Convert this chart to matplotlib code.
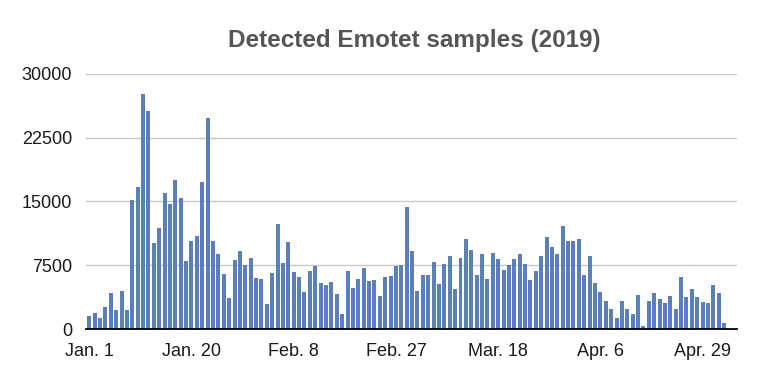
import matplotlib

matplotlib.use("Agg")
import matplotlib.pyplot as plt  # noqa: E402
import numpy as np  # noqa: E402
import pandas as pd  # noqa: E402

plt.rcParams["font.family"] = ["Liberation Sans", "DejaVu Sans"]

TITLE = "Detected Emotet samples (2019)"
DAYS = pd.date_range("2019-01-01", "2019-04-29", freq="D")

# daily sample counts (one per day, Jan 1 .. Apr 29)
SAMPLES_JAN = [1560, 1875, 1330, 2540, 4220, 2230, 4450, 2230, 15190, 16760,
               27620, 25660, 10080, 11870, 16050, 14650, 17540, 15430, 7970, 10310,
               10900, 17300, 24800, 10310, 8870, 6450, 3670, 8090, 9220, 7500,
               8320]
SAMPLES_FEB = [5980, 5860, 2890, 6560, 12300, 7770, 10200, 6760, 6090, 4340,
               6800, 7460, 5430, 5120, 5550, 4100, 1760, 6800, 4880, 5860,
               7230, 5660, 5820, 3870, 6090, 6250, 7460, 7540]
SAMPLES_MAR = [14410, 9220, 4450, 6410, 6410, 7890, 5310, 7660, 8630, 4690,
               8320, 10620, 9300, 6330, 8870, 5860, 8980, 8280, 6990, 7500,
               8200, 8790, 7660, 5820, 6800, 8630, 10860, 9650, 8870, 12070,
               10390]
SAMPLES_APR = [10310, 10620, 6330, 8630, 5430, 4340, 3240, 2400, 1250, 3280,
               2340, 1800, 3980, 350, 3280, 4260, 3550, 3050, 3900, 2340,
               6090, 3790, 4690, 3790, 3160, 3050, 5230, 4260, 660]
SAMPLES = SAMPLES_JAN + SAMPLES_FEB + SAMPLES_MAR + SAMPLES_APR

Y_TICKS = [0, 7500, 15000, 22500, 30000]
X_TICK_LABELS = ["Jan. 1", "Jan. 20", "Feb. 8", "Feb. 27", "Mar. 18", "Apr. 6", "Apr. 29"]

BAR = "#5a80bb"
GRID = "#c8c8c8"


def main():
    assert len(SAMPLES) == len(DAYS)
    fig = plt.figure(figsize=(7.6, 3.8), dpi=100)
    ax = fig.add_axes([0.1132, 0.1342, 0.8566, 0.6711])

    x = np.arange(len(SAMPLES))
    ax.bar(x, SAMPLES, width=0.74, color=BAR, zorder=3)

    ax.set_ylim(0, 30000)
    ax.set_xlim(-0.6, len(SAMPLES) + 1.4)
    ax.set_yticks(Y_TICKS)
    ax.set_yticklabels([str(v) for v in Y_TICKS])
    ax.yaxis.grid(True, color=GRID, lw=1.0, zorder=0)
    ax.set_xticks(x[::19][:len(X_TICK_LABELS)])
    ax.set_xticklabels(X_TICK_LABELS)

    for side in ("top", "right", "left"):
        ax.spines[side].set_visible(False)
    ax.spines["bottom"].set_color("black")
    ax.spines["bottom"].set_linewidth(1.3)
    ax.spines["bottom"].set_zorder(4)
    ax.tick_params(axis="both", length=0, labelsize=13, colors="#1a1a1a")
    ax.tick_params(axis="y", pad=10)
    ax.tick_params(axis="x", pad=10)

    fig.text(0.545, 0.893, TITLE, ha="center", va="center", fontsize=17.5,
             fontweight="bold", color="#555555")

    fig.savefig("out.png", dpi=100)
    plt.close(fig)


if __name__ == "__main__":
    main()
